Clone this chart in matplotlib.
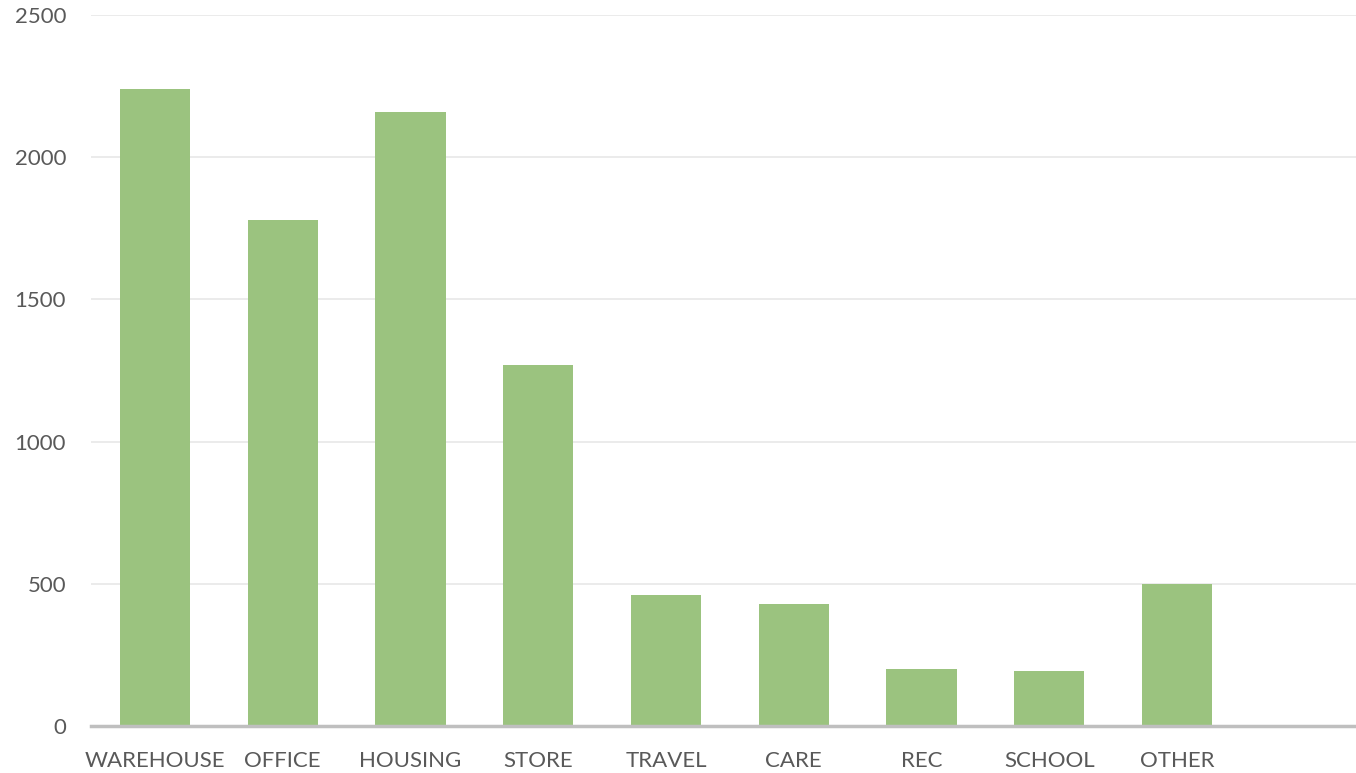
import matplotlib
matplotlib.use("Agg")
import matplotlib.pyplot as plt

categories = ["WAREHOUSE", "OFFICE", "HOUSING", "STORE", "TRAVEL",
              "CARE", "REC", "SCHOOL", "OTHER"]
values = [2240, 1780, 2160, 1270, 460, 430, 200, 195, 500]
yticks = [0, 500, 1000, 1500, 2000, 2500]

BAR = "#9bc37f"
GRID = "#e8e8e8"
AXIS = "#bfbfbf"
TXT = "#595959"

plt.rcParams["font.family"] = ["Lato", "DejaVu Sans"]

W, H = 1356, 773
fig = plt.figure(figsize=(W / 100, H / 100), dpi=100)
fig.patch.set_facecolor("white")
ax = fig.add_axes([91 / W, 1 - 726 / H, (W - 91) / W, (726 - 15) / H])

xs = list(range(len(categories)))
ax.bar(xs, values, width=0.55, color=BAR, zorder=2)

ax.set_ylim(0, 2500)
ax.set_xlim(-0.5, 9.4)
ax.set_yticks(yticks)
ax.set_yticklabels([str(t) for t in yticks])
ax.set_xticks(xs)
ax.set_xticklabels(categories)

for t in yticks[1:]:
    ax.axhline(t, color=GRID, lw=1.2, zorder=0)

for s in ("top", "right", "left"):
    ax.spines[s].set_visible(False)
ax.spines["bottom"].set_color(AXIS)
ax.spines["bottom"].set_linewidth(2.5)
ax.spines["bottom"].set_zorder(3)

ax.tick_params(axis="both", length=0, labelsize=16, colors=TXT)
ax.tick_params(axis="y", pad=18)
ax.tick_params(axis="x", pad=18)

fig.savefig("out.png", dpi=100, facecolor="white")
